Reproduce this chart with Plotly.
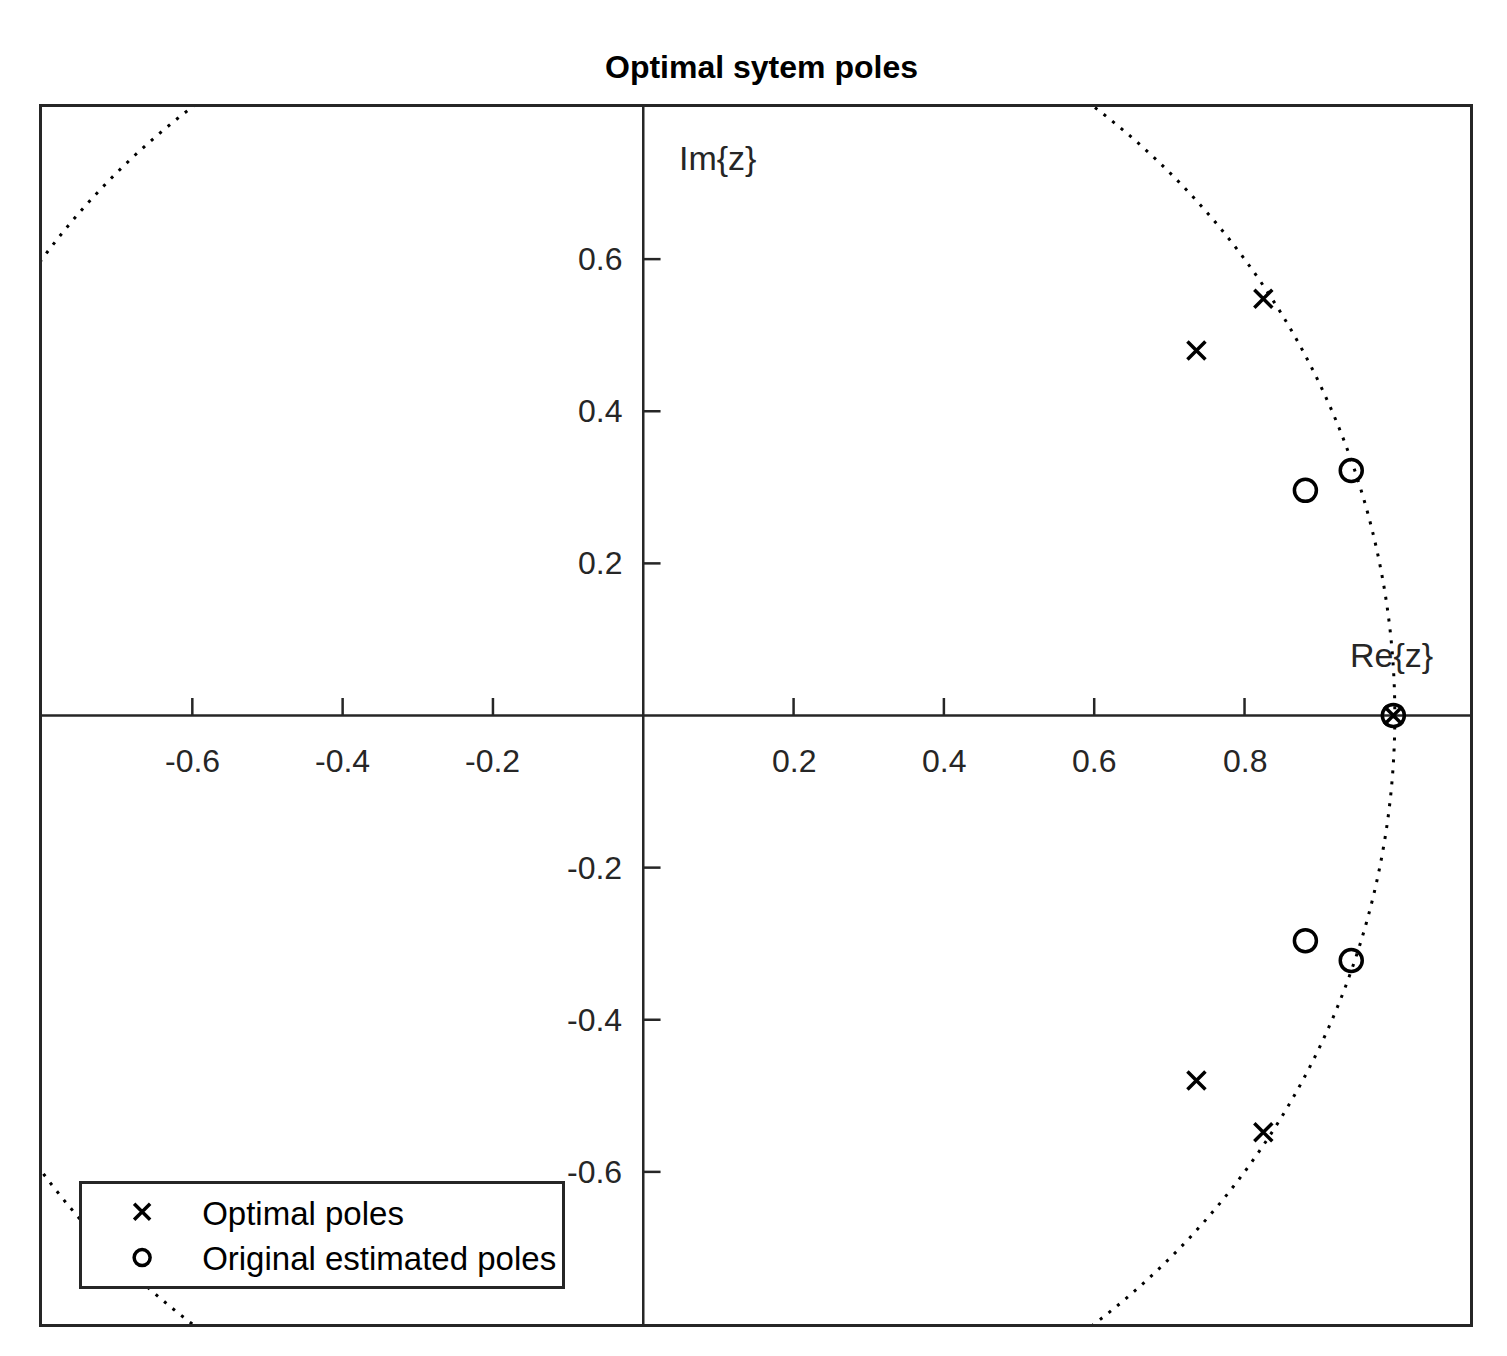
import plotly.graph_objects as go

opt_re = [0.736, 0.825, 0.736, 0.825, 0.998]
opt_im = [0.48, 0.548, -0.48, -0.548, 0.0]
orig_re = [0.942, 0.881, 0.942, 0.881, 0.998]
orig_im = [0.322, 0.296, -0.322, -0.296, 0.0]
xticks = [-0.6, -0.4, -0.2, 0.2, 0.4, 0.6, 0.8]
yticks = [-0.6, -0.4, -0.2, 0.2, 0.4, 0.6]

XR = [-0.8, 1.1]
YR = [-0.8, 0.8]
col = "#262626"
fig = go.Figure()
fig.add_shape(type="line", x0=XR[0], x1=XR[1], y0=0, y1=0, line=dict(color=col, width=2.5), layer="below")
fig.add_shape(type="line", x0=0, x1=0, y0=YR[0], y1=YR[1], line=dict(color=col, width=2.5), layer="below")
fig.add_shape(type="circle", x0=-1, y0=-1, x1=1, y1=1,
              line=dict(color="black", width=3, dash="3px,8px"), layer="below")
for t in xticks:
    fig.add_shape(type="line", x0=t, x1=t, y0=0, y1=0.023, line=dict(color=col, width=2.5))
    fig.add_annotation(x=t, y=-0.033, text=f"{t:g}", showarrow=False, yanchor="top",
                       font=dict(size=32, color=col))
for t in yticks:
    fig.add_shape(type="line", x0=0, x1=0.023, y0=t, y1=t, line=dict(color=col, width=2.5))
    fig.add_annotation(x=-0.025, y=t, text=f"{t:g}", showarrow=False, xanchor="right",
                       font=dict(size=32, color=col))
fig.add_annotation(x=0.045, y=0.733, text="Im{z}", showarrow=False, xanchor="left",
                   font=dict(size=34, color=col))
fig.add_annotation(x=0.995, y=0.08, text="Re{z}", showarrow=False,
                   font=dict(size=34, color=col))

fig.add_trace(go.Scatter(x=opt_re, y=opt_im, mode="markers", name="Optimal poles",
                         marker=dict(symbol="x-thin", size=18, line=dict(width=3.5, color="black"), color="black")))
fig.add_trace(go.Scatter(x=orig_re, y=orig_im, mode="markers", name="Original estimated poles",
                         marker=dict(symbol="circle-open", size=22, line=dict(width=3.5), color="black")))

fig.update_layout(
    width=1507, height=1356,
    margin=dict(l=34, r=45, t=99, b=40),
    paper_bgcolor="white", plot_bgcolor="white",
    font=dict(family="Arial, Liberation Sans", color=col),
    title=dict(text="<b>Optimal sytem poles</b>", x=0.5, xanchor="center", y=0.965,
               font=dict(size=32, color="black")),
    xaxis=dict(range=XR, showgrid=False, zeroline=False, showticklabels=False, ticks="",
               showline=True, mirror=True, linecolor=col, linewidth=3),
    yaxis=dict(range=YR, showgrid=False, zeroline=False, showticklabels=False, ticks="",
               showline=True, mirror=True, linecolor=col, linewidth=3),
    legend=dict(x=0.026, y=0.029, xanchor="left", yanchor="bottom", bgcolor="white",
                bordercolor=col, borderwidth=3, font=dict(size=33, color="black"),
                itemwidth=110, tracegroupgap=0),
    showlegend=True,
)
fig.write_html("out.html")
